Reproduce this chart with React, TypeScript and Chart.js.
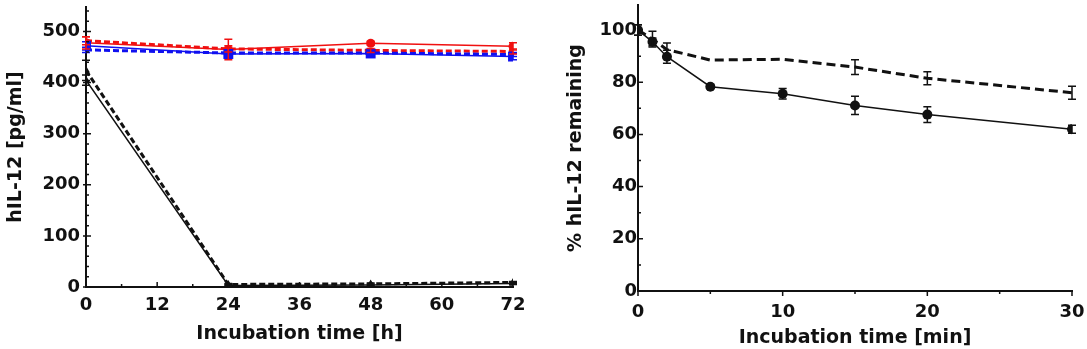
import React, { useEffect, useRef } from "react";
import { Chart, registerables } from "chart.js";

Chart.register(...registerables);

// ---------- Left panel data (hIL-12 pg/ml vs hours) ----------
const hoursX = [0, 24, 48, 72];
const redSolid = [478, 465, 477, 471];
const redSolidErr = [12, 20, 4, 7];
const redDashed = [482, 466, 463, 461];
const redDashedErr = [8, 6, 4, 5];
const blueSolid = [472, 456, 457, 451];
const blueSolidErr = [8, 8, 5, 6];
const blueDashed = [464, 458, 458, 455];
const blueDashedErr = [5, 5, 4, 4];
const blackSolid = [405, 3, 4, 7];
const blackSolidErr = [10, 2, 2, 2];
const blackDashed = [424, 5, 6, 9];
const blackDashedErr = [20, 2, 2, 2];

// ---------- Right panel data (% remaining vs minutes) ----------
const minutesX = [0, 1, 2, 5, 10, 15, 20, 30];
const pctSolid = [100, 95.5, 89.8, 78.3, 75.6, 71.1, 67.6, 62];
const pctSolidErr = [2, 1.5, 2.5, 0.8, 2, 3.5, 3, 1.5];
const pctDashed = [100, 96.5, 92.5, 88.5, 88.8, 85.8, 81.5, 76];
const pctDashedErr = [2, 3, 2.5, 0, 0, 2.8, 2.5, 2.5];

const FONT = "DejaVu Sans";
const INK = "#111";

const pts = (xs: number[], ys: number[]) => xs.map((x, i) => ({ x, y: ys[i] }));

const errorBarPlugin = {
  id: "errorBars",
  afterDatasetsDraw(chart: any) {
    const ctx = chart.ctx;
    const xs = chart.scales.x;
    const ys = chart.scales.y;
    chart.data.datasets.forEach((ds: any) => {
      const errs = ds.errors;
      if (!errs) return;
      ctx.save();
      ctx.strokeStyle = ds.borderColor;
      ctx.lineWidth = 1.5;
      ctx.setLineDash([]);
      ds.data.forEach((p: any, j: number) => {
        const e = errs[j];
        if (!e) return;
        const x = xs.getPixelForValue(p.x);
        const y1 = ys.getPixelForValue(p.y - e);
        const y2 = ys.getPixelForValue(p.y + e);
        const c = 4;
        ctx.beginPath();
        ctx.moveTo(x, y1);
        ctx.lineTo(x, y2);
        ctx.moveTo(x - c, y1);
        ctx.lineTo(x + c, y1);
        ctx.moveTo(x - c, y2);
        ctx.lineTo(x + c, y2);
        ctx.stroke();
      });
      ctx.restore();
    });
  },
};

type TickCfg = {
  xMinor: number; xMajor: number; xDir: number;
  yMinor: number; yMajor: number; yDir: number; yBoth: boolean;
};

function makeTickPlugin(cfg: TickCfg) {
  return {
    id: "axisTicks",
    afterDraw(chart: any) {
      const { ctx, chartArea } = chart;
      const xs = chart.scales.x;
      const ys = chart.scales.y;
      const isMajor = (v: number, m: number) => Math.abs(v / m - Math.round(v / m)) < 1e-6;
      ctx.save();
      ctx.strokeStyle = INK;
      ctx.lineWidth = 1.5;
      ctx.beginPath();
      for (let v = xs.min; v <= xs.max + 1e-9; v += cfg.xMinor) {
        const len = isMajor(v, cfg.xMajor) ? 5 : 3;
        const px = xs.getPixelForValue(v);
        ctx.moveTo(px, chartArea.bottom);
        ctx.lineTo(px, chartArea.bottom + cfg.xDir * len);
      }
      for (let v = 0; v <= ys.max + 1e-9; v += cfg.yMinor) {
        const major = isMajor(v, cfg.yMajor);
        const len = major ? 5 : 3;
        const py = ys.getPixelForValue(v);
        const start = major && cfg.yBoth ? chartArea.left - 3 : chartArea.left;
        ctx.moveTo(start, py);
        ctx.lineTo(chartArea.left + cfg.yDir * len, py);
      }
      ctx.stroke();
      ctx.restore();
    },
  };
}

function scaleBase(min: number, max: number, step: number, labelPad: number, title: string, titlePad: any, size: number, horizontal: boolean) {
  return {
    type: "linear",
    min,
    max,
    border: { display: true, color: INK, width: 2 },
    grid: { display: true, drawOnChartArea: false, drawTicks: false },
    ticks: {
      stepSize: step,
      includeBounds: false,
      padding: labelPad,
      color: INK,
      maxRotation: 0,
      font: { family: FONT, weight: "bold", size: 18 },
    },
    title: {
      display: true,
      text: title,
      color: INK,
      padding: titlePad,
      font: { family: FONT, weight: "bold", size: 19 },
    },
    afterFit: (s: any) => {
      if (horizontal) s.height = size;
      else s.width = size;
      s.paddingTop = 0;
      s.paddingBottom = 0;
      s.paddingLeft = 0;
      s.paddingRight = 0;
    },
  };
}

function LeftChart() {
  const ref = useRef<HTMLCanvasElement>(null);
  useEffect(() => {
    const red = "#f01010";
    const blue = "#1010f0";
    const chart = new Chart(ref.current!, {
      type: "line",
      data: {
        datasets: [
          { data: pts(hoursX, blueSolid), errors: blueSolidErr, borderColor: blue, backgroundColor: blue, borderWidth: 1.5, pointStyle: "rect", pointRadius: 7, pointBorderWidth: 0 },
          { data: pts(hoursX, blueDashed), errors: blueDashedErr, borderColor: blue, backgroundColor: blue, borderWidth: 3, borderDash: [6, 3], pointRadius: 0 },
          { data: pts(hoursX, redSolid), errors: redSolidErr, borderColor: red, backgroundColor: red, borderWidth: 1.5, pointStyle: "circle", pointRadius: 4.5, pointBorderWidth: 0 },
          { data: pts(hoursX, redDashed), errors: redDashedErr, borderColor: red, backgroundColor: red, borderWidth: 3, borderDash: [6, 3], pointRadius: 0 },
          { data: pts(hoursX, blackSolid), errors: blackSolidErr, borderColor: INK, backgroundColor: INK, borderWidth: 1.5, pointStyle: "triangle", pointRadius: 4.5, pointBorderWidth: 0 },
          { data: pts(hoursX, blackDashed), errors: blackDashedErr, borderColor: INK, backgroundColor: INK, borderWidth: 3, borderDash: [6, 3], pointStyle: "triangle", pointRadius: 4.5, pointBorderWidth: 0 },
        ] as any,
      },
      options: {
        responsive: false,
        animation: false,
        layout: { padding: { top: 5, right: 27, left: 0, bottom: 0 } },
        plugins: { legend: { display: false }, tooltip: { enabled: false } },
        scales: {
          x: scaleBase(0, 72, 12, 8, "Incubation time [h]", { top: 0, bottom: 4 }, 62, true) as any,
          y: scaleBase(0, 548, 100, 6, "hIL-12 [pg/ml]", { top: 5, bottom: 0 }, 86, false) as any,
        },
      } as any,
      plugins: [errorBarPlugin, makeTickPlugin({ xMinor: 6, xMajor: 12, xDir: -1, yMinor: 20, yMajor: 100, yDir: 1, yBoth: true })],
    });
    return () => chart.destroy();
  }, []);
  return <canvas ref={ref} width={540} height={349} style={{ position: "absolute", left: 0, top: 0 }} />;
}

function RightChart() {
  const ref = useRef<HTMLCanvasElement>(null);
  useEffect(() => {
    const chart = new Chart(ref.current!, {
      type: "line",
      data: {
        datasets: [
          { data: pts(minutesX, pctSolid), errors: pctSolidErr, borderColor: INK, backgroundColor: INK, borderWidth: 1.5, pointStyle: "circle", pointRadius: 5, pointBorderWidth: 0 },
          { data: pts(minutesX, pctDashed), errors: pctDashedErr, borderColor: INK, backgroundColor: INK, borderWidth: 3, borderDash: [9, 5], pointRadius: 0 },
        ] as any,
      },
      options: {
        responsive: false,
        animation: false,
        layout: { padding: { top: 5, right: 15, left: 0, bottom: 0 } },
        plugins: { legend: { display: false }, tooltip: { enabled: false } },
        scales: {
          x: scaleBase(0, 30, 10, 11, "Incubation time [min]", { top: 0, bottom: 0 }, 58, true) as any,
          y: scaleBase(0, 109.6, 20, 1, "% hIL-12 remaining", { top: 25, bottom: 0 }, 98, false) as any,
        },
      } as any,
      plugins: [errorBarPlugin, makeTickPlugin({ xMinor: 5, xMajor: 10, xDir: 1, yMinor: 10, yMajor: 20, yDir: 1, yBoth: false })],
    });
    return () => chart.destroy();
  }, []);
  return <canvas ref={ref} width={547} height={349} style={{ position: "absolute", left: 540, top: 0 }} />;
}

export default function App() {
  return (
    <div style={{ position: "absolute", left: 0, top: 0, width: 1087, height: 349, background: "#fff", overflow: "hidden" }}>
      <LeftChart />
      <RightChart />
    </div>
  );
}
